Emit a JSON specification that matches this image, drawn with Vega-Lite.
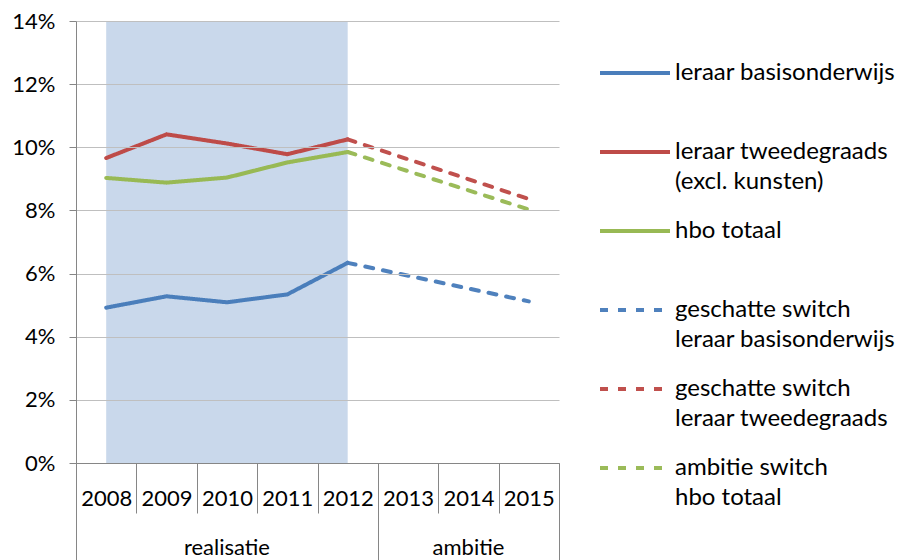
{
  "$schema": "https://vega.github.io/schema/vega-lite/v6.json",
  "width": 483,
  "height": 442,
  "autosize": {"type": "none"},
  "padding": {"left": 76, "top": 21, "right": 343, "bottom": 97},
  "background": "white",
  "config": {
    "view": {"stroke": null},
    "font": "Lato",
    "axis": {"labelFont": "Lato", "labelColor": "black", "titleFont": "Lato"},
    "legend": {"labelFont": "Lato", "labelColor": "black"}
  },
  "datasets": {
    "band": [{"start": "2008", "end": "2012"}],
    "solid": [
      {"year": "2008", "series": "leraar basisonderwijs", "value": 0.0492},
      {"year": "2009", "series": "leraar basisonderwijs", "value": 0.0528},
      {"year": "2010", "series": "leraar basisonderwijs", "value": 0.0509},
      {"year": "2011", "series": "leraar basisonderwijs", "value": 0.0534},
      {"year": "2012", "series": "leraar basisonderwijs", "value": 0.0634},
      {"year": "2008", "series": "leraar tweedegraads\n(excl. kunsten)", "value": 0.0966},
      {"year": "2009", "series": "leraar tweedegraads\n(excl. kunsten)", "value": 0.1041},
      {"year": "2010", "series": "leraar tweedegraads\n(excl. kunsten)", "value": 0.1012},
      {"year": "2011", "series": "leraar tweedegraads\n(excl. kunsten)", "value": 0.0978},
      {"year": "2012", "series": "leraar tweedegraads\n(excl. kunsten)", "value": 0.1025},
      {"year": "2008", "series": "hbo totaal", "value": 0.0903},
      {"year": "2009", "series": "hbo totaal", "value": 0.0888},
      {"year": "2010", "series": "hbo totaal", "value": 0.0904},
      {"year": "2011", "series": "hbo totaal", "value": 0.0952},
      {"year": "2012", "series": "hbo totaal", "value": 0.0985}
    ],
    "dashed": [
      {"year": "2012", "series": "geschatte switch\nleraar basisonderwijs", "value": 0.0634},
      {"year": "2015", "series": "geschatte switch\nleraar basisonderwijs", "value": 0.0512},
      {"year": "2012", "series": "geschatte switch\nleraar tweedegraads", "value": 0.1025},
      {"year": "2015", "series": "geschatte switch\nleraar tweedegraads", "value": 0.0836},
      {"year": "2012", "series": "ambitie switch\nhbo totaal", "value": 0.0985},
      {"year": "2015", "series": "ambitie switch\nhbo totaal", "value": 0.0803}
    ]
  },
  "layer": [
    {
      "data": {"name": "band"},
      "mark": {"type": "rect", "color": "#C9D8EB"},
      "encoding": {
        "x": {
          "field": "start", "type": "ordinal", "bandPosition": 0.5,
          "scale": {"type": "band", "domain": ["2008","2009","2010","2011","2012","2013","2014","2015"], "paddingInner": 0, "paddingOuter": 0},
          "axis": {"orient": "bottom", "title": null, "tickBand": "extent", "tickSize": 50, "labelPadding": -25, "labelFontSize": 22, "labelAngle": 0, "domainColor": "#868686", "tickColor": "#868686", "grid": false, "zindex": 1}
        },
        "x2": {"field": "end", "bandPosition": 0.5},
        "y": {"datum": 0, "type": "quantitative", "scale": {"domain": [0, 0.14], "nice": false},
          "axis": {"title": null, "values": [0, 0.02, 0.04, 0.06, 0.08, 0.1, 0.12, 0.14], "format": ".0%", "grid": true, "gridColor": "#BFBFBF", "tickSize": 7, "tickColor": "#868686", "domainColor": "#868686", "labelPadding": 14, "labelFontSize": 22, "zindex": 1}},
        "y2": {"datum": 0.14}
      }
    },
    {
      "data": {"name": "solid"},
      "mark": {"type": "line", "strokeWidth": 4, "strokeCap": "round", "strokeJoin": "round"},
      "encoding": {
        "x": {
          "field": "year", "type": "ordinal",
          "axis": {"orient": "bottom", "title": null, "values": ["2008","2012","2015"], "tickBand": "extent", "tickSize": 97, "labels": false, "domain": false, "grid": false, "zindex": 1,
            "tickColor": {"condition": {"test": "datum.value === '2008'", "value": "transparent"}, "value": "#868686"}}
        },
        "y": {
          "field": "value", "type": "quantitative",
          "axis": {"title": null, "values": [0, 0.02, 0.04, 0.06, 0.08, 0.1, 0.12, 0.14], "format": ".0%", "grid": true, "gridColor": "#BFBFBF", "tickSize": 7, "tickColor": "#868686", "domainColor": "#868686", "labelPadding": 14, "labelFontSize": 22, "zindex": 1}
        },
        "color": {
          "field": "series", "type": "nominal",
          "scale": {
            "domain": ["leraar basisonderwijs", "leraar tweedegraads\n(excl. kunsten)", "hbo totaal", "geschatte switch\nleraar basisonderwijs", "geschatte switch\nleraar tweedegraads", "ambitie switch\nhbo totaal"],
            "range": ["#4A7EBB", "#BE4B48", "#98B954", "#4F81BD", "#C0504D", "#9BBB59"]
          },
          "legend": {"title": null, "orient": "none", "legendX": 522, "legendY": 15, "columns": 1, "gridAlign": "all", "symbolType": "stroke", "symbolSize": 4900, "symbolStrokeWidth": 4, "labelFontSize": 24, "labelLimit": 400, "labelOffset": 3, "labelBaseline": "middle", "rowPadding": -1, "labelExpr": "split(datum.label, '\\n')", "encode": {"labels": {"update": {"lineHeight": {"value": 30}}}}}
        },
        "strokeDash": {
          "field": "series", "type": "nominal",
          "scale": {
            "domain": ["leraar basisonderwijs", "leraar tweedegraads\n(excl. kunsten)", "hbo totaal", "geschatte switch\nleraar basisonderwijs", "geschatte switch\nleraar tweedegraads", "ambitie switch\nhbo totaal"],
            "range": [[1, 0], [1, 0], [1, 0], [8, 10], [8, 10], [8, 10]]
          },
          "legend": {"title": null, "orient": "none", "legendX": 522, "legendY": 15, "columns": 1, "gridAlign": "all", "symbolType": "stroke", "symbolSize": 4900, "symbolStrokeWidth": 4, "labelFontSize": 24, "labelLimit": 400, "labelOffset": 3, "labelBaseline": "middle", "rowPadding": -1, "labelExpr": "split(datum.label, '\\n')", "encode": {"labels": {"update": {"lineHeight": {"value": 30}}}}}
        }
      }
    },
    {
      "data": {"name": "dashed"},
      "mark": {"type": "line", "strokeWidth": 4, "strokeCap": "round", "strokeJoin": "round"},
      "encoding": {
        "x": {
          "field": "year", "type": "ordinal",
          "axis": {"orient": "bottom", "title": null, "values": ["2010", "2014"], "ticks": false, "tickSize": 0, "domain": false, "grid": false, "labelPadding": 74, "labelBaseline": "top", "labelFontSize": 22, "labelAngle": 0, "labelExpr": "datum.value == '2010' ? 'realisatie' : 'ambitie'"}
        },
        "y": {"field": "value", "type": "quantitative",
          "axis": {"title": null, "values": [0, 0.02, 0.04, 0.06, 0.08, 0.1, 0.12, 0.14], "format": ".0%", "grid": true, "gridColor": "#BFBFBF", "tickSize": 7, "tickColor": "#868686", "domainColor": "#868686", "labelPadding": 14, "labelFontSize": 22, "zindex": 1}},
        "color": {"field": "series", "type": "nominal"},
        "strokeDash": {"field": "series", "type": "nominal"}
      }
    }
  ],
  "resolve": {"axis": {"x": "independent"}}
}
